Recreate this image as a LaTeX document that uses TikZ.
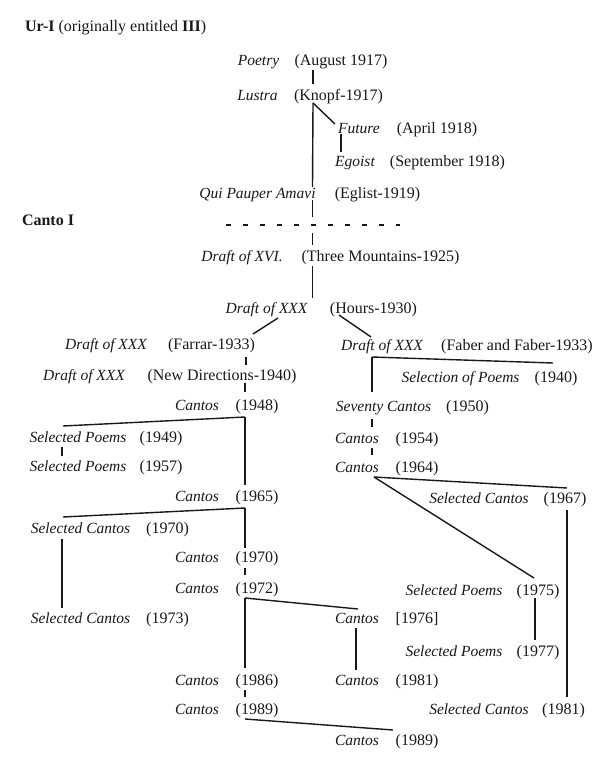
\documentclass[tikz,border=0pt]{standalone}
\usepackage{fontspec}
\setmainfont{Liberation Serif}
\usetikzlibrary{calc}
\definecolor{ink}{rgb}{0.1,0.1,0.1}
\tikzset{
  tit/.style={font=\fontsize{15.5}{18}\selectfont\itshape, anchor=base, inner sep=0pt, outer sep=0pt, text=ink},
  dat/.style={font=\fontsize{16}{19}\selectfont, anchor=base, inner sep=0pt, outer sep=0pt, text=ink},
  head/.style={font=\fontsize{16}{19}\selectfont, anchor=base west, inner sep=0pt, outer sep=0pt, text=ink},
  link/.style={line width=1.4pt, draw=ink},
  divider/.style={line width=1.4pt, draw=ink, dash pattern=on 5pt off 12pt}
}
\newcommand\pentry[6]{%
  \node[tit] (t#1) at (#3,#6+5) {#2};
  \node[dat] (d#1) at (#5,#6+5) {#4};}
\begin{document}
\begin{tikzpicture}[x=1pt,y=-1pt]
\useasboundingbox (0,0) rectangle (593,760);
\fill[white] (0,0) rectangle (593,760);

\node[head] (ur) at (25,32) {\textbf{Ur-I} (originally entitled \textbf{III})};
\node[head] (canto) at (22,225) {\textbf{Canto I}};

\pentry{P}{Poetry}{258.5}{(August 1917)}{341}{61}
\pentry{L}{Lustra}{257.5}{(Knopf-1917)}{338.5}{95}
\pentry{F}{Future}{359}{(April 1918)}{437}{128}
\pentry{E}{Egoist}{355}{(September 1918)}{447.5}{161}
\pentry{Q}{Qui Pauper Amavi}{257.5}{(Eglist-1919)}{377.5}{193}
\pentry{XVI}{Draft of XVI.}{242}{(Three Mountains-1925)}{380.5}{256}
\pentry{H}{Draft of XXX}{266.5}{(Hours-1930)}{373.5}{308}
\pentry{Far}{Draft of XXX}{106}{(Farrar-1933)}{211.5}{344}
\pentry{Fab}{Draft of XXX}{382}{(Faber and Faber-1933)}{517}{345}
\pentry{ND}{Draft of XXX}{84}{(New Directions-1940)}{222}{375}
\pentry{Sel}{Selection of Poems}{460.5}{(1940)}{556}{377}
\pentry{C48}{Cantos}{197}{(1948)}{257}{405}
\pentry{Sev}{Seventy Cantos}{383.5}{(1950)}{467.5}{406}
\pentry{SP49}{Selected Poems}{78}{(1949)}{161}{437}
\pentry{C54}{Cantos}{357}{(1954)}{417}{438}
\pentry{SP57}{Selected Poems}{78}{(1957)}{161}{466}
\pentry{C64}{Cantos}{357}{(1964)}{417}{467}
\pentry{C65}{Cantos}{197}{(1965)}{257}{496}
\pentry{SC67}{Selected Cantos}{479}{(1967)}{565}{498}
\pentry{SC70}{Selected Cantos}{80.5}{(1970)}{167.5}{528}
\pentry{C70}{Cantos}{197}{(1970)}{257}{557}
\pentry{C72}{Cantos}{197}{(1972)}{257}{588}
\pentry{SP75}{Selected Poems}{454}{(1975)}{538}{590}
\pentry{SC73}{Selected Cantos}{80.5}{(1973)}{167.5}{618}
\pentry{C76}{Cantos}{357}{[1976]}{417}{618}
\pentry{SP77}{Selected Poems}{454}{(1977)}{538}{651}
\pentry{C86}{Cantos}{197}{(1986)}{257}{680}
\pentry{C81}{Cantos}{357}{(1981)}{417}{680}
\pentry{C89}{Cantos}{197}{(1989)}{257}{709}
\pentry{SC81}{Selected Cantos}{479}{(1981)}{563.5}{709}
\pentry{C89b}{Cantos}{357}{(1989)}{417}{740}

% dashed divider
\coordinate (dshL) at (226,225);
\coordinate (dshR) at (400,225);
\coordinate (dsh) at (312.5,225);
\draw[divider] (dshL) -- (dshR);

% connectors
\draw[link] ($(dP.base)+(-28,4)$) -- ($(dL.base)+(-25.5,-16)$);
\draw[link] ($(dL.base)+(-25.5,3)$) -- ($(tF.base)+(-24,-9)$);
\draw[link] ($(dL.base)+(-25.5,3)$) -- ($(dQ.base)+(-65,-11)$);
\draw[link] ($(tF.base)+(-18,1)$) -- ($(tE.base)+(-14,-14)$);
\draw[link] ($(dQ.base)+(-65,2)$) -- ($(dsh)+(0,-8)$);
\draw[link] ($(dsh)+(0,8)$) -- ($(dXVI.base)+(-68,-16)$);
\draw[link] ($(dXVI.base)+(-68,5)$) -- ($(dH.base)+(-61,-15)$);
\draw[link] ($(tH.base)+(11.5,5)$) -- ($(dFar.base)+(41.5,-15)$);
\draw[link] ($(dH.base)+(-34.5,2)$) -- ($(tFab.base)+(-11,-13)$);
\draw[link] ($(dFar.base)+(34.5,8)$) -- ($(dND.base)+(24,-15)$);
\draw[link] ($(dND.base)+(23,3)$) -- ($(dC48.base)+(-12,-18)$);
\draw[link] ($(tFab.base)+(-10,7)$) -- ($(dSel.base)+(-3,-19)$);
\draw[link] ($(tFab.base)+(-10,7)$) -- ($(tSev.base)+(-11.5,-19)$);
\draw[link] ($(tSev.base)+(-11.5,8)$) -- ($(tC54.base)+(15,-16)$);
\draw[link] ($(tC54.base)+(15,5)$) -- ($(tC64.base)+(15,-17)$);
\draw[link] ($(tC64.base)+(17,5)$) -- ($(dSC67.base)+(2,-15)$);
\draw[link] ($(tC64.base)+(17,5)$) -- ($(dSP75.base)+(-4,-17)$);
\draw[link] ($(dSC67.base)+(2,7)$) -- ($(dSC81.base)+(3.5,-17)$);
\draw[link] ($(dSP75.base)+(-3,3)$) -- ($(dSP77.base)+(-3,-16)$);
\draw[link] ($(dC48.base)+(-12,7)$) -- ($(tSP49.base)+(-15,-16)$);
\draw[link] ($(dC48.base)+(-12,7)$) -- ($(dC65.base)+(-12,-16)$);
\draw[link] ($(tSP49.base)+(-16,5)$) -- ($(tSP57.base)+(-16,-15)$);
\draw[link] ($(dC65.base)+(-12,7)$) -- ($(tSC70.base)+(-17.5,-16)$);
\draw[link] ($(dC65.base)+(-12,7)$) -- ($(dC70.base)+(-12,-14)$);
\draw[link] ($(tSC70.base)+(-18.5,6)$) -- ($(tSC73.base)+(-18.5,-15)$);
\draw[link] ($(dC70.base)+(-12,6)$) -- ($(dC72.base)+(-12,-18)$);
\draw[link] ($(dC72.base)+(-12,5)$) -- ($(tC76.base)+(1,-14)$);
\draw[link] ($(dC72.base)+(-12,5)$) -- ($(dC86.base)+(-12,-17)$);
\draw[link] ($(tC76.base)+(-1,5)$) -- ($(tC81.base)+(-1,-15)$);
\draw[link] ($(dC86.base)+(-12,5)$) -- ($(dC89.base)+(-12,-17)$);
\draw[link] ($(dC89.base)+(-12,5)$) -- ($(dC89b.base)+(-24,-15)$);
\end{tikzpicture}
\end{document}
